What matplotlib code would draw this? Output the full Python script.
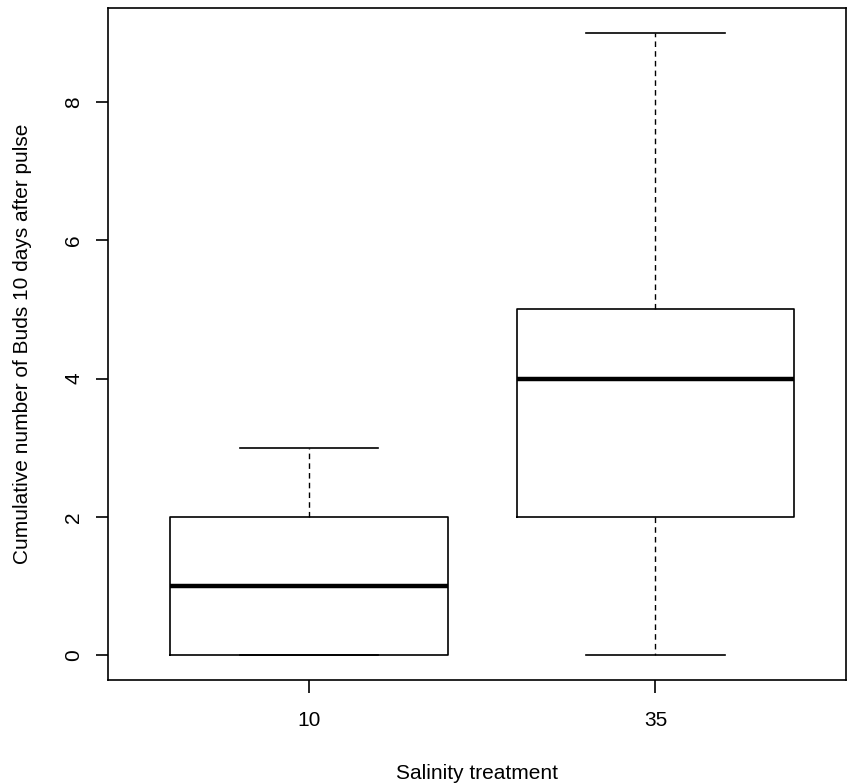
import matplotlib
matplotlib.use("Agg")
import matplotlib.pyplot as plt

matplotlib.rcParams.update({
    "font.family": "Liberation Sans",
    "font.size": 15,
})

# box statistics
groups = ["10", "35"]
whislo = [0, 0]
q1 = [0, 2]
med = [1, 4]
q3 = [2, 5]
whishi = [3, 9]

stats = [
    {"label": g, "whislo": lo, "q1": a, "med": m, "q3": b, "whishi": hi, "fliers": []}
    for g, lo, a, m, b, hi in zip(groups, whislo, q1, med, q3, whishi)
]

fig = plt.figure(figsize=(8.47, 7.83), dpi=100)
ax = fig.add_axes([108 / 847, 103 / 783, 738 / 847, 672 / 783])

ax.bxp(
    stats, positions=[1, 2], widths=0.8, showfliers=False,
    boxprops=dict(color="black", linewidth=1.2),
    medianprops=dict(color="black", linewidth=3.2, solid_capstyle="butt"),
    whiskerprops=dict(color="black", linewidth=1.0, linestyle=(0, (4, 3))),
    capprops=dict(color="black", linewidth=1.2),
    capwidths=0.4,
)

ax.set_xlim(0.42, 2.55)
ax.set_ylim(-0.36, 9.36)
ax.set_yticks([0, 2, 4, 6, 8])
ax.set_xticks([1, 2])
ax.set_xticklabels(groups)
for lab in ax.get_yticklabels():
    lab.set_rotation(90)
    lab.set_va("center")
ax.tick_params(direction="out", length=9, width=1.2)
ax.tick_params(axis="y", pad=9)
ax.tick_params(axis="x", pad=13)

ax.set_xlabel("Salinity treatment", labelpad=25)
ax.set_ylabel("Cumulative number of Buds 10 days after pulse", labelpad=23)

for s in ax.spines.values():
    s.set_linewidth(1.2)

fig.savefig("out.png", dpi=100)
